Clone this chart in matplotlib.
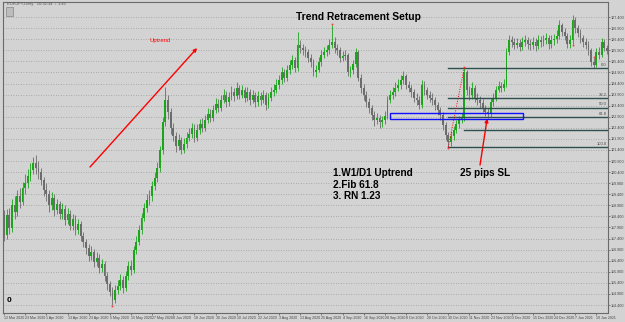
'''EURJPY daily chart with a trend retracement setup drawn on it.
'''
import numpy as np
import matplotlib
matplotlib.use('Agg')
from matplotlib import pyplot as plt
from matplotlib.patches import Rectangle

# Daily candles, 12 Mar 2020 .. 21 Jan 2021 (open = previous close)
first_open = 118.46
closes = [
    117.56, 118.46, 117.88, 118.91, 118.60, 119.32, 119.05, 119.68, 119.91, 120.22,
    120.50, 120.81, 120.59, 120.40, 120.04, 119.59, 119.41, 118.91, 119.23, 118.69,
    118.96, 118.51, 118.73, 118.24, 118.51, 117.97, 118.28, 117.79, 118.06, 117.52,
    117.24, 116.97, 116.61, 116.79, 116.34, 116.52, 116.07, 116.25, 115.71, 115.35,
    114.99, 114.63, 115.08, 115.26, 115.53, 115.17, 115.71, 116.16, 115.98, 116.88,
    117.24, 117.79, 118.33, 118.78, 119.14, 119.32, 119.77, 120.13, 120.59, 121.40,
    122.66, 123.66, 123.11, 122.39, 122.03, 121.58, 121.85, 121.40, 121.67, 121.94,
    122.12, 122.39, 121.94, 122.30, 122.57, 122.39, 122.75, 123.02, 122.84, 123.20,
    123.47, 123.29, 123.66, 123.88, 123.56, 123.79, 124.02, 123.84, 124.20, 123.88,
    124.11, 123.75, 124.02, 123.66, 123.88, 123.56, 123.84, 123.66, 123.88, 123.43,
    123.75, 124.02, 124.11, 124.33, 124.56, 124.92, 124.65, 125.01, 125.24, 125.46,
    125.10, 126.14, 126.00, 125.91, 125.82, 125.55, 125.37, 124.92, 125.01, 125.37,
    125.69, 125.82, 125.91, 126.14, 126.27, 126.00, 125.91, 125.55, 125.64, 125.69,
    124.92, 125.01, 125.28, 125.82, 124.65, 124.20, 123.88, 123.56, 123.29, 122.98,
    122.75, 122.84, 122.66, 122.75, 122.93, 123.66, 123.88, 124.02, 124.20, 124.33,
    124.56, 124.74, 124.33, 124.20, 124.02, 123.75, 123.66, 123.43, 124.33, 124.11,
    123.88, 123.75, 123.66, 123.43, 123.20, 122.98, 122.53, 122.08, 121.76, 122.03,
    122.30, 122.57, 122.75, 122.84, 124.92, 124.11, 123.88, 124.20, 123.75, 123.66,
    123.52, 123.29, 123.11, 123.02, 123.56, 123.75, 124.11, 124.29, 124.20, 124.38,
    125.82, 126.36, 126.27, 126.14, 126.23, 126.05, 126.27, 126.36, 126.18, 126.14,
    126.27, 126.09, 126.36, 126.27, 126.36, 126.45, 126.18, 126.36, 126.40, 126.54,
    127.04, 126.73, 126.54, 126.18, 126.36, 127.27, 126.91, 126.68, 126.45, 126.27,
    126.14, 125.91, 125.37, 125.24, 125.82, 125.69, 126.27, 126.00, 125.87,
]
highs = [
    118.70, 118.75, 118.80, 119.20, 119.30, 119.60, 119.70, 119.95, 120.30, 120.55,
    120.80, 121.10, 121.17, 120.90, 120.60, 120.20, 119.90, 119.60, 119.50, 119.40,
    119.20, 119.10, 119.00, 118.90, 118.80, 118.70, 118.50, 118.45, 118.30, 118.20,
    117.70, 117.40, 117.15, 117.05, 116.95, 116.80, 116.70, 116.50, 116.40, 115.90,
    115.50, 115.20, 115.30, 115.55, 115.80, 115.70, 115.95, 116.40, 116.45, 117.05,
    117.50, 118.00, 118.55, 119.00, 119.40, 119.60, 120.00, 120.40, 120.85, 121.60,
    122.90, 124.24, 123.90, 123.30, 122.60, 122.20, 122.10, 122.00, 121.95, 122.20,
    122.40, 122.60, 122.55, 122.55, 122.80, 122.85, 123.00, 123.30, 123.25, 123.45,
    123.75, 123.70, 123.90, 124.15, 124.05, 124.00, 124.30, 124.20, 124.45, 124.35,
    124.35, 124.25, 124.25, 124.15, 124.10, 124.00, 124.05, 124.00, 124.10, 124.00,
    123.95, 124.25, 124.40, 124.60, 124.80, 125.15, 125.05, 125.25, 125.45, 125.70,
    125.60, 126.73, 126.35, 126.20, 126.10, 125.95, 125.75, 125.50, 125.25, 125.60,
    125.90, 126.05, 126.15, 126.40, 127.04, 126.50, 126.20, 126.05, 125.85, 125.90,
    125.80, 125.20, 125.45, 126.00, 125.90, 124.85, 124.40, 124.05, 123.75, 123.45,
    123.15, 123.05, 123.00, 122.95, 123.15, 123.85, 124.10, 124.25, 124.45, 124.60,
    124.80, 124.95, 124.85, 124.50, 124.35, 124.15, 123.95, 123.85, 124.55, 124.50,
    124.25, 124.05, 123.95, 123.80, 123.55, 123.35, 123.10, 122.65, 122.20, 122.25,
    122.50, 122.75, 122.95, 123.05, 125.10, 125.00, 124.30, 124.45, 124.35, 123.95,
    123.85, 123.70, 123.45, 123.30, 123.75, 123.95, 124.30, 124.50, 124.45, 124.60,
    126.00, 126.60, 126.55, 126.45, 126.45, 126.40, 126.50, 126.60, 126.50, 126.40,
    126.50, 126.45, 126.60, 126.55, 126.60, 126.70, 126.60, 126.60, 126.65, 126.80,
    127.25, 127.15, 126.90, 126.70, 126.60, 127.49, 127.40, 127.05, 126.85, 126.60,
    126.45, 126.30, 126.00, 125.55, 126.00, 126.05, 126.45, 126.40, 126.15,
]
lows = [
    117.30, 117.40, 117.60, 117.70, 118.30, 118.40, 118.80, 118.90, 119.40, 119.70,
    120.00, 120.30, 120.30, 120.10, 119.80, 119.30, 119.10, 118.60, 118.70, 118.40,
    118.50, 118.30, 118.30, 118.00, 118.05, 117.80, 117.80, 117.55, 117.60, 117.30,
    117.00, 116.70, 116.40, 116.45, 116.10, 116.15, 115.85, 115.90, 115.50, 115.10,
    114.80, 114.40, 114.50, 114.90, 115.10, 114.95, 115.05, 115.55, 115.75, 115.85,
    116.70, 117.10, 117.60, 118.20, 118.60, 118.90, 119.10, 119.60, 119.95, 120.40,
    121.20, 122.50, 122.80, 122.10, 121.80, 121.30, 121.40, 121.20, 121.25, 121.50,
    121.80, 121.95, 121.75, 121.80, 122.10, 122.20, 122.25, 122.60, 122.65, 122.70,
    123.05, 123.10, 123.15, 123.50, 123.35, 123.40, 123.65, 123.60, 123.70, 123.70,
    123.75, 123.55, 123.60, 123.45, 123.50, 123.35, 123.40, 123.45, 123.50, 123.20,
    123.30, 123.60, 123.85, 123.95, 124.15, 124.40, 124.45, 124.50, 124.85, 125.05,
    124.90, 124.95, 125.80, 125.70, 125.60, 125.35, 125.15, 124.75, 124.70, 124.90,
    125.20, 125.55, 125.65, 125.75, 126.00, 125.80, 125.70, 125.35, 125.40, 125.45,
    124.75, 124.70, 124.85, 125.15, 124.50, 123.95, 123.65, 123.35, 123.05, 122.75,
    122.50, 122.55, 122.40, 122.45, 122.55, 122.80, 123.50, 123.70, 123.85, 124.05,
    124.15, 124.40, 124.15, 124.00, 123.80, 123.55, 123.45, 123.25, 123.30, 123.90,
    123.70, 123.55, 123.45, 123.20, 123.00, 122.75, 122.30, 121.85, 121.53, 121.60,
    121.85, 122.15, 122.40, 122.60, 122.70, 123.90, 123.65, 123.70, 123.55, 123.45,
    123.30, 123.10, 122.95, 122.84, 122.90, 123.40, 123.60, 124.00, 124.00, 124.05,
    124.25, 125.70, 126.05, 125.95, 126.00, 125.85, 125.90, 126.10, 125.95, 125.90,
    125.95, 125.85, 125.95, 126.05, 126.10, 126.20, 125.95, 126.00, 126.15, 126.25,
    126.40, 126.55, 126.35, 126.00, 126.00, 126.20, 126.70, 126.50, 126.25, 126.05,
    125.95, 125.70, 125.20, 125.10, 125.15, 125.50, 125.60, 125.85, 125.75,
]
date_labels = [
    '12 Mar 2020', '23 Mar 2020', '1 Apr 2020', '13 Apr 2020', '23 Apr 2020',
    '5 May 2020', '15 May 2020', '27 May 2020', '8 Jun 2020', '18 Jun 2020',
    '30 Jun 2020', '10 Jul 2020', '22 Jul 2020', '3 Aug 2020', '13 Aug 2020',
    '25 Aug 2020', '4 Sep 2020', '16 Sep 2020', '28 Sep 2020', '8 Oct 2020',
    '20 Oct 2020', '30 Oct 2020', '11 Nov 2020', '23 Nov 2020', '3 Dec 2020',
    '15 Dec 2020', '24 Dec 2020', '7 Jan 2021', '19 Jan 2021',
]
price_ticks = [
    114.40, 114.90, 115.40, 115.90, 116.40, 116.90, 117.40, 117.90, 118.40,
    118.90, 119.40, 119.90, 120.40, 120.90, 121.40, 121.90, 122.40, 122.90,
    123.40, 123.90, 124.40, 124.90, 125.40, 125.90, 126.40, 126.90, 127.40,
]
# Fibonacci drawn from the swing low to the swing high
swing_low_bar, swing_high_bar = 168, 174
fib_levels = [0.0, 38.2, 50.0, 61.8, 78.6, 100.0]
fib_labels = ['0.0', '38.2', '50.0', '61.8', '', '100.0']
fractal_bars = [41, 124, 168, 174, 215, 223]
setup_notes = ['1.W1/D1 Uptrend', '2.Fib 61.8', '3. RN 1.23']

BG = '#d3d3d3'
BULL = '#1aa51a'
BEAR = '#6c6c6c'
FIB = '#2f4f4f'
FONT = 'Liberation Sans'
SMALL = ['Liberation Sans Narrow', 'Liberation Sans']

fig = plt.figure(figsize=(6.25, 3.22), dpi=100, facecolor=BG)
ax = fig.add_axes([3 / 625, 9 / 322, 605 / 625, 311 / 322], facecolor=BG)

# Candles
opens = np.array([first_open] + closes[:-1])
c = np.array(closes)
x = np.arange(len(closes))
colors = np.where(c >= opens, BULL, BEAR)
ax.vlines(x, lows, highs, colors=colors, lw=0.6, zorder=3)
body = np.where(np.abs(c - opens) < 0.03, 0.03, c - opens)
ax.bar(x, body, bottom=opens, width=0.7, color=colors, lw=0, zorder=3)

# Axis limits / ticks
ax.set_xlim(-0.4, 228.4)
ax.set_ylim(114.04, 128.08)
ax.set_xticks(range(0, 8 * len(date_labels), 8))
ax.set_xticklabels(date_labels, ha='left', fontsize=2.6, color='#444444', family=SMALL)
ax.yaxis.tick_right()
ax.set_yticks(price_ticks)
ax.set_yticklabels([f'{p:.3f}' for p in price_ticks], fontsize=2.7, color='#444444',
                   family=SMALL)
ax.tick_params(axis='both', length=1.5, width=0.5, color='#555555', pad=0.6)
ax.yaxis.grid(True, linestyle=(0, (1, 2)), color='#9c9c9c', lw=0.6)
for side in ax.spines.values():
    side.set_color('#6a6a6a')
    side.set_linewidth(0.8)

# Fibonacci retracement
lo, hi = lows[swing_low_bar], highs[swing_high_bar]
for level, label in zip(fib_levels, fib_labels):
    price = hi - (hi - lo) * level / 100
    start = swing_high_bar if label == '' else swing_low_bar
    ax.plot([start, 228.4], [price, price], color=FIB, lw=1.0, zorder=4)
    if label:
        ax.text(228.0, price + 0.06, label, ha='right', va='bottom', fontsize=3.0,
                color='#444444', family=SMALL, zorder=5)
ax.plot([swing_low_bar, swing_high_bar], [lo, hi], color='red', lw=0.7,
        linestyle=(0, (1, 1.5)), zorder=5)
ax.plot(fractal_bars[::2], [lows[i] - 0.05 for i in fractal_bars[::2]], 's', ms=1.2,
        color='#ff3030', mew=0, zorder=6)
ax.plot(fractal_bars[1::2], [highs[i] + 0.05 for i in fractal_bars[1::2]], 's', ms=1.2,
        color='#ff3030', mew=0, zorder=6)

# Entry zone around the 61.8 level / 123.00 round number
ax.add_patch(Rectangle((146.0, 122.80), 50.3, 0.27, fill=False, edgecolor='#1010ff',
                       lw=1.0, zorder=6))

# Uptrend arrow
ax.annotate('', xy=(73.0, 126.00), xytext=(32.5, 120.63),
            arrowprops=dict(arrowstyle='-|>', color='#ff0000', lw=1.0,
                            mutation_scale=5, shrinkA=0, shrinkB=0))
ax.text(59.0, 126.36, 'Uptrend', color='#ff0000', fontsize=4.2, ha='center',
        va='center', family=FONT)

# Stop loss arrow
ax.annotate('', xy=(182.7, 122.82), xytext=(180.0, 120.72),
            arrowprops=dict(arrowstyle='-|>', color='#ff0000', lw=1.0,
                            mutation_scale=5, shrinkA=0, shrinkB=0))
ax.text(182.0, 120.36, '25 pips SL', fontsize=7.2, fontweight='bold', ha='center',
        va='center', family=FONT)

for k, note in enumerate(setup_notes):
    ax.text(124.4, 120.36 - k * 0.53, note, fontsize=7.2, fontweight='bold',
            ha='left', va='center', family=FONT)

ax.text(0.587, 0.953, 'Trend Retracement Setup', transform=ax.transAxes,
        fontsize=7.4, fontweight='bold', ha='center', va='center', family=FONT)

# Terminal-ish header and window index
fig.text(7 / 625, 1 - 4 / 322, 'EURJPY,Daily   10:32:34  \u2193 1:45', fontsize=3,
         color='#555555', va='center', family=FONT)
ax.add_patch(Rectangle((0.005, 0.955), 0.012, 0.03, transform=ax.transAxes,
                       facecolor='#bdbdbd', edgecolor='#777777', lw=0.4, zorder=6))
fig.text(7 / 625, 1 - 301 / 322, '0', fontsize=6, fontweight='bold',
         va='center', family=FONT)

fig.savefig('out.png', dpi=100, facecolor=BG)
